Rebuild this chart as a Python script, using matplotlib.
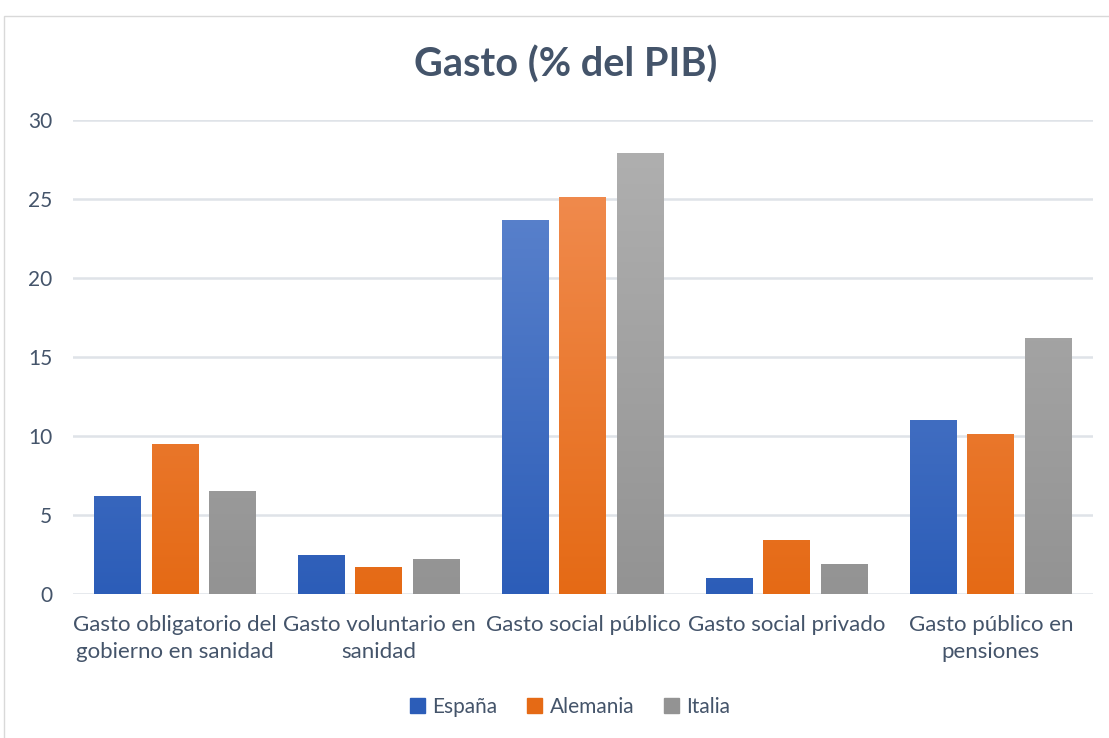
import numpy as np
import matplotlib
matplotlib.use('Agg')
import matplotlib.pyplot as plt
from matplotlib.patches import Rectangle
from matplotlib.colors import LinearSegmentedColormap

plt.rcParams['font.family'] = ['Lato', 'DejaVu Sans']

categories = ['Gasto obligatorio del\ngobierno en sanidad', 'Gasto voluntario en\nsanidad',
              'Gasto social público', 'Gasto social privado', 'Gasto público en\npensiones']
series_names = ['España', 'Alemania', 'Italia']
espana = [6.2, 2.5, 23.7, 1.0, 11.0]
alemania = [9.5, 1.7, 25.1, 3.4, 10.1]
italia = [6.5, 2.2, 27.9, 1.9, 16.2]

# top / bottom colours of the gradient fill
grads = [('#6389D0', '#2C5DB8'), ('#F29057', '#E56A15'), ('#B1B1B1', '#939393')]
text_col = '#44546A'

fig = plt.figure(figsize=(11.09, 7.38), dpi=100)
ax = fig.add_axes([0.0658, 0.1951, 0.9197, 0.6423])

# chart border
fig.patches.append(Rectangle((4 / 1109, -0.01), 1.2, 1 - 16 / 738 + 0.01, transform=fig.transFigure,
                             fill=False, edgecolor='#D9D9D9', linewidth=1))

x = np.arange(len(categories))
w = 0.23
offs = [-0.28, 0, 0.28]
ymax = 30
for vals, off, (ctop, cbot), name in zip([espana, alemania, italia], offs, grads, series_names):
    bars = ax.bar(x + off, vals, w, color=cbot, label=name, zorder=2)
    cmap = LinearSegmentedColormap.from_list('g', [cbot, ctop])
    for b in bars:
        b.set_facecolor('none')
        x0 = b.get_x()
        grad = np.linspace(0, 1, 256).reshape(-1, 1)
        im = ax.imshow(grad, cmap=cmap, origin='lower', aspect='auto',
                       extent=(x0, x0 + w, 0, ymax), zorder=2)
        im.set_clip_path(b)

ax.set_xlim(-0.5, len(categories) - 0.5)
ax.set_ylim(0, 30)
ax.set_yticks(range(0, 31, 5))
ax.set_xticks(x)
ax.set_xticklabels(categories, fontsize=16, color=text_col, linespacing=1.45)
ax.tick_params(axis='y', labelsize=15, labelcolor=text_col, length=0, pad=15)
ax.tick_params(axis='x', length=0, pad=15)
ax.grid(axis='y', color='#DFE3E8', linewidth=1.8, zorder=0)
ax.set_axisbelow(True)
for s in ax.spines.values():
    s.set_visible(False)

fig.text(0.51, 0.912, 'Gasto (% del PIB)', ha='center', va='center', fontsize=28.5,
         fontweight='bold', color=text_col)

handles = [Rectangle((0, 0), 1, 1, color=c[1]) for c in grads]
fig.legend(handles, series_names, loc='center', bbox_to_anchor=(0.514, 0.042), ncol=3,
           frameon=False, fontsize=15, labelcolor=text_col, handlelength=0.75, handleheight=0.75,
           handletextpad=0.35, columnspacing=1.4)

fig.savefig('out.png', dpi=100)
